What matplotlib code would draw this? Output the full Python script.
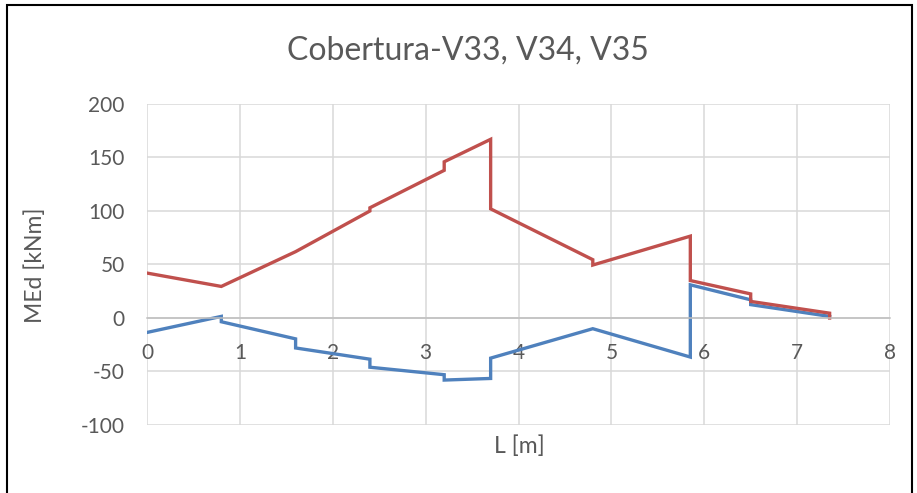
import matplotlib
matplotlib.use("Agg")
import matplotlib.pyplot as plt
from matplotlib.patches import Rectangle

# envelope of design moments along the beam (positions in m, moments in kNm)
x_max = [0, 0.8, 1.6, 2.4, 2.4, 3.2, 3.2, 3.7, 3.7, 4.8, 4.8, 5.85, 5.85, 6.5, 6.5, 7.35, 7.35]
m_max = [42, 29.5, 62, 100, 103, 138, 146, 167, 102, 54.5, 49.5, 76.5, 35, 22.5, 15.5, 4.5, 0]

x_min = [0, 0.8, 0.8, 1.6, 1.6, 2.4, 2.4, 3.2, 3.2, 3.7, 3.7, 4.8, 5.85, 5.85, 6.5, 6.5, 7.35]
m_min = [-13.5, 1.5, -3.5, -19.5, -28, -38.5, -46, -53, -58, -56.5, -37.5, -10, -36.5, 31, 17, 12.5, 1.5]

x_ticks = [0, 1, 2, 3, 4, 5, 6, 7, 8]
y_ticks = [-100, -50, 0, 50, 100, 150, 200]

title = "Cobertura-V33, V34, V35"
xlabel = "L [m]"
ylabel = "MEd [kNm]"

txt = "#595959"
grid = "#d9d9d9"
plt.rcParams["font.family"] = ["Lato", "DejaVu Sans"]
plt.rcParams["axes.unicode_minus"] = False

fig = plt.figure( figsize=(9.17, 4.93), dpi=100 )
W, H = 917, 493

# chart border
fig.patches.append( Rectangle( (7 / W, -0.05), (912 - 7) / W, 1 - 5 / H + 0.05,
                               transform=fig.transFigure, fill=False,
                               edgecolor="#000000", linewidth=1.5 ) )

ax = fig.add_axes( [147 / W, 1 - 425 / H, (890 - 147) / W, (425 - 104) / H] )

ax.plot( x_min, m_min, color="#4f81bd", linewidth=2.4, solid_joinstyle="miter" )
ax.plot( x_max, m_max, color="#c0504d", linewidth=2.4, solid_joinstyle="miter" )

ax.set_xlim( 0, 8 )
ax.set_ylim( -100, 200 )
ax.set_xticks( x_ticks )
ax.set_yticks( y_ticks )
ax.grid( True, color=grid, linewidth=1.1 )
ax.set_axisbelow( True )

for s in ["top", "right", "left"] :
    ax.spines[s].set_visible( False )
ax.spines["bottom"].set_position( ("data", 0) )
ax.spines["bottom"].set_color( "#bfbfbf" )
ax.spines["bottom"].set_linewidth( 1.1 )

ax.tick_params( axis="x", length=0, pad=18, labelsize=15, labelcolor=txt )
ax.tick_params( axis="y", length=0, pad=16, labelsize=15, labelcolor=txt )

fig.text( 468 / W, 1 - 51 / H, title, ha="center", va="center",
          fontsize=23, color=txt )
fig.text( 519 / W, 1 - 446 / H, xlabel, ha="center", va="center",
          fontsize=16.5, color=txt )
fig.text( 35 / W, 1 - 265 / H, ylabel, ha="center", va="center",
          rotation=90, fontsize=16.5, color=txt )

fig.savefig( "out.png", dpi=100 )
